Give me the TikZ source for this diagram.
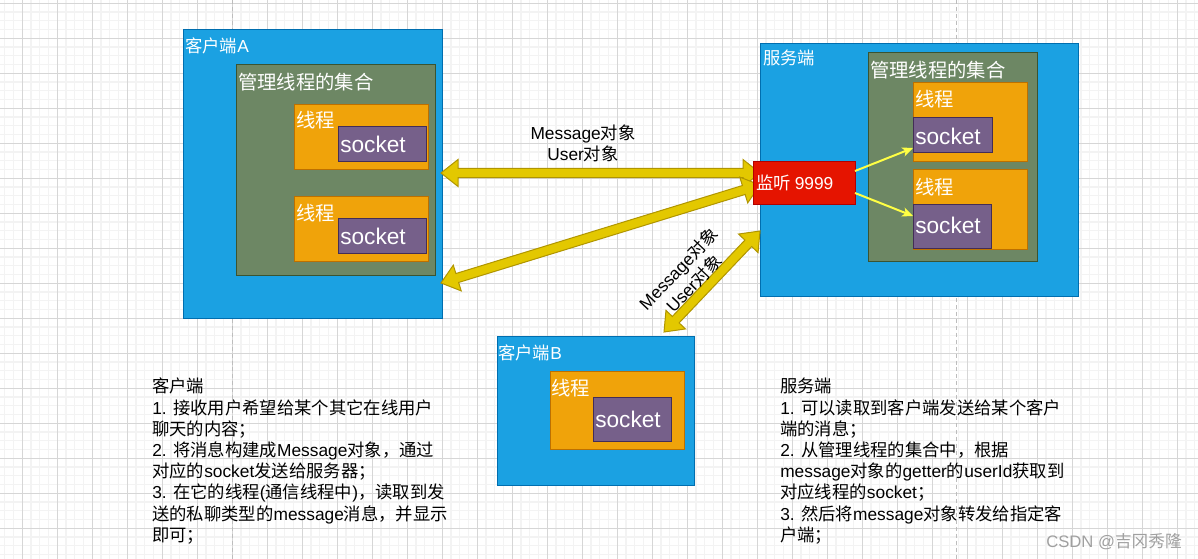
\documentclass[tikz,border=0pt]{standalone}
\usepackage{fontspec}
\setmainfont{Noto Sans CJK SC}
\newfontfamily\lat{Liberation Sans}
\usetikzlibrary{calc,arrows.meta}

\definecolor{bluefill}{HTML}{1BA1E2}
\definecolor{bluedraw}{HTML}{006EAF}
\definecolor{greenfill}{HTML}{6D8764}
\definecolor{greendraw}{HTML}{3A5431}
\definecolor{orangefill}{HTML}{F0A30A}
\definecolor{orangedraw}{HTML}{BD7000}
\definecolor{purplefill}{HTML}{76608A}
\definecolor{purpledraw}{HTML}{432D57}
\definecolor{redfill}{HTML}{E51400}
\definecolor{reddraw}{HTML}{B20000}
\definecolor{yellowfill}{HTML}{E3C800}
\definecolor{yellowdraw}{HTML}{B09500}
\definecolor{thinyellow}{HTML}{FFFF44}
\definecolor{minorgrid}{HTML}{F3F3F3}
\definecolor{majorgrid}{HTML}{D6D6D6}
\definecolor{pagedash}{HTML}{BDBDBD}
\definecolor{wmgray}{HTML}{A0A0A0}

\tikzset{
  box/.style 2 args={anchor=north west, inner sep=0pt, line width=0.75pt,
     minimum width=#1*0.75pt, minimum height=#2*0.75pt},
  bluebox/.style={draw=bluedraw, fill=bluefill},
  greenbox/.style={draw=greendraw, fill=greenfill},
  orangebox/.style={draw=orangedraw, fill=orangefill},
  purplebox/.style={draw=purpledraw, fill=purplefill},
  redbox/.style={draw=reddraw, fill=redfill},
  lab/.style={anchor=west, inner sep=0pt, text=white},
  fsmall/.style={font=\fontsize{13}{15.9}\selectfont},
  fmid/.style={font=\fontsize{14.5}{17}\selectfont},
  fsock/.style={font=\fontsize{17}{20}\selectfont\lat},
  bodytext/.style={anchor=north west, inner sep=0pt, align=left, text=black,
     font=\fontsize{13}{15.9}\selectfont},
  flexarrow/.style={draw=yellowdraw, fill=yellowfill, line width=0.75pt, line join=miter},
  thinarrow/.style={draw=thinyellow, line width=1.5pt,
     -{Stealth[length=8pt,width=7pt,inset=2pt]}},
}

% double headed block arrow between two named coordinates
\newcommand\flexarrow[2]{%
  \draw[flexarrow] (#1)
    -- ($(#1)!16.27pt!38.38:(#2)$) -- ($(#1)!13.22pt!15.35:(#2)$)
    -- ($(#2)!13.22pt!-15.35:(#1)$) -- ($(#2)!16.27pt!-38.38:(#1)$)
    -- (#2)
    -- ($(#2)!16.27pt!38.38:(#1)$) -- ($(#2)!13.22pt!15.35:(#1)$)
    -- ($(#1)!13.22pt!-15.35:(#2)$) -- ($(#1)!16.27pt!-38.38:(#2)$)
    -- cycle;}

\begin{document}
\begin{tikzpicture}[x=0.75pt, y=-0.75pt]
\useasboundingbox (0,0) rectangle (1198,559);
\fill[white] (0,0) rectangle (1198,559);

% grid
\foreach \gx in {4.8,13.55,...,1198} \draw[minorgrid, line width=0.9pt] (\gx,0) -- (\gx,559);
\foreach \gy in {3.3,12.05,...,559} \draw[minorgrid, line width=0.9pt] (0,\gy) -- (1198,\gy);
\foreach \gx in {22.3,57.3,...,1198} \draw[majorgrid, line width=0.75pt] (\gx,0) -- (\gx,559);
\foreach \gy in {3.3,38.3,...,559} \draw[majorgrid, line width=0.75pt] (0,\gy) -- (1198,\gy);
\draw[pagedash, line width=0.9pt, dash pattern=on 3pt off 2.2pt] (232.3,0) -- (232.3,559);
\draw[pagedash, line width=0.9pt, dash pattern=on 3pt off 2.2pt] (956.7,0) -- (956.7,559);

% client A
\node[box={259}{289}, bluebox] (clientA) at (183,29) {};
\node[lab, fsmall] (labA) at (185,46) {客户端{\lat A}};
\node[box={199}{211}, greenbox] (collA) at (236,64) {};
\node[lab, fmid] (labCollA) at (238,82) {管理线程的集合};
\node[box={134}{65}, orangebox] (thrA1) at (294,104) {};
\node[lab, fmid] (labThrA1) at (296,120) {线程};
\node[box={88}{35}, purplebox] (sockA1) at (338,126) {};
\node[lab, fsock] (labSockA1) at (340,144) {socket};
\node[box={134}{65}, orangebox] (thrA2) at (294,196) {};
\node[lab, fmid] (labThrA2) at (296,213) {线程};
\node[box={88}{35}, purplebox] (sockA2) at (338,218) {};
\node[lab, fsock] (labSockA2) at (340,236) {socket};

% server
\node[box={318}{253}, bluebox] (server) at (760,43) {};
\node[lab, fsmall] (labS) at (763,58) {服务端};
\node[box={169}{209}, greenbox] (collS) at (868,52) {};
\node[lab, fmid] (labCollS) at (870,70) {管理线程的集合};
\node[box={114}{79}, orangebox] (thrS1) at (913,82) {};
\node[lab, fmid] (labThrS1) at (915,99) {线程};
\node[box={79}{35}, purplebox] (sockS1) at (913,117) {};
\node[lab, fsock] (labSockS1) at (915,136) {socket};
\node[box={114}{80}, orangebox] (thrS2) at (913,169) {};
\node[lab, fmid] (labThrS2) at (915,187) {线程};
\node[box={78}{44}, purplebox] (sockS2) at (913,204) {};
\node[lab, fsock] (labSockS2) at (915,225) {socket};

% client B
\node[box={197}{149}, bluebox] (clientB) at (497,336) {};
\node[lab, fsmall] (labB) at (498,353) {客户端{\lat B}};
\node[box={134}{78}, orangebox] (thrB) at (550,371) {};
\node[lab, fmid] (labThrB) at (551,388) {线程};
\node[box={78}{44}, purplebox] (sockB) at (593,397) {};
\node[lab, fsock] (labSockB) at (595,419) {socket};

% block arrows
\coordinate (f1a) at (441,173);
\coordinate (f1b) at (760,173);
\coordinate (f2a) at (441,283);
\coordinate (f2b) at (760,185);
\coordinate (f3a) at (664,332);
\coordinate (f3b) at (760,231);
\flexarrow{f1a}{f1b}
\flexarrow{f2a}{f2b}
\flexarrow{f3a}{f3b}

% listener
\node[box={102}{43}, redbox] (listen) at (753,161) {};
\node[lab, fsmall] (labListen) at (756,183) {监听 {\lat 9999}};

% thin arrows
\coordinate (t1a) at (855,171);
\coordinate (t1b) at (913,148);
\coordinate (t2a) at (855,193);
\coordinate (t2b) at (913,216);
\draw[thinarrow] (t1a) -- (t1b);
\draw[thinarrow] (t2a) -- (t2b);

% arrow labels
\node[align=center, inner sep=0pt, fsmall] (msg1) at (583,143) {{\lat Message}对象\\{\lat User}对象};
\node[align=center, inner sep=0pt, fsmall, rotate=46.5] (msg2) at (686,276) {{\lat Message}对象\\{\lat User}对象};

% descriptions
\node[bodytext] (descC) at (152,378) {客户端\\
{\lat 1. }接收用户希望给某个其它在线用户\\
聊天的内容；\\
{\lat 2. }将消息构建成{\lat Message}对象，通过\\
对应的{\lat socket}发送给服务器；\\
{\lat 3. }在它的线程{\lat (}通信线程中{\lat )}，读取到发\\
送的私聊类型的{\lat message}消息，并显示\\
即可；};
\node[bodytext] (descS) at (780,378) {服务端\\
{\lat 1. }可以读取到客户端发送给某个客户\\
端的消息；\\
{\lat 2. }从管理线程的集合中，根据\\
{\lat message}对象的{\lat getter}的{\lat userId}获取到\\
对应线程的{\lat socket}；\\
{\lat 3. }然后将{\lat message}对象转发给指定客\\
户端；};

% watermark
\node[anchor=west, inner sep=0pt, text=wmgray, font=\fontsize{12.5}{15}\selectfont] (wm) at (1046,542) {{\lat CSDN @}吉冈秀隆};
\end{tikzpicture}
\end{document}
